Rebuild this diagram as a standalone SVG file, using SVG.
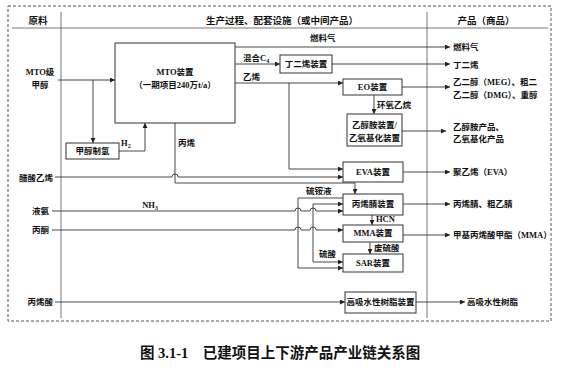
<svg xmlns="http://www.w3.org/2000/svg" width="561" height="372" viewBox="0 0 561 372">
<defs>
<marker id="ar" viewBox="0 0 6 6" refX="6" refY="3" markerWidth="5" markerHeight="5" orient="auto" markerUnits="userSpaceOnUse">
<path d="M0,0 L6,3 L0,6 z" fill="#222"/>
</marker>
</defs>
<style>
text{font-family:"Liberation Serif","Noto Sans CJK SC",serif;font-weight:bold;font-size:8.5px;fill:#111}
.h{font-size:9.5px}
.c{text-anchor:middle}
.e{text-anchor:end}
.box{fill:#fff;stroke:#333;stroke-width:1}
.ln{fill:none;stroke:#333;stroke-width:0.9}
.a{marker-end:url(#ar)}
.frame{fill:none;stroke:#555;stroke-width:1;stroke-dasharray:3,2}
.grid{fill:none;stroke:#666;stroke-width:0.9}
.cap{font-size:14.5px}
</style>
<rect width="561" height="372" fill="#fff"/>
<rect class="frame" x="8" y="6" width="543" height="315"/>
<g id="grid">
<line class="grid" x1="12" y1="28" x2="548" y2="28"/>
<line class="grid" x1="61" y1="12" x2="61" y2="318"/>
<line class="grid" x1="427" y1="12" x2="427" y2="318"/>
<text class="h c" x="38" y="24">原料</text>
<text class="h c" x="282" y="24">生产过程、配套设施（或中间产品）</text>
<text class="h c" x="486" y="24">产品（商品）</text>
</g>
<g id="connectors">
<path class="ln a" d="M58,80 H115"/>
<path class="ln a" d="M93,80 V143"/>
<path class="ln a" d="M119,151 H145 V123"/>
<path class="ln a" d="M235,47 H450"/>
<path class="ln a" d="M235,64 H280"/>
<path class="ln a" d="M332,64 H450"/>
<path class="ln a" d="M235,83 H343"/>
<path class="ln a" d="M402,87 H450"/>
<path class="ln a" d="M374,95 V114"/>
<path class="ln a" d="M402,131 H446"/>
<path class="ln a" d="M289,83 V169 H343"/>
<path class="ln a" d="M55,177 H172 a3,3 0 0 1 6,0 H343"/>
<path class="ln a" d="M175,123 V183 H355 V194"/>
<path class="ln a" d="M403,172 H450"/>
<path class="ln a" d="M343,198 H298 V268 H343"/>
<path class="ln a" d="M313,204 H343"/>
<path class="ln a" d="M313,204 V262 H343"/>
<path class="ln a" d="M52,211 H295 a3,3 0 0 1 6,0 H310 a3,3 0 0 1 6,0 H343"/>
<path class="ln a" d="M52,230 H295 a3,3 0 0 1 6,0 H310 a3,3 0 0 1 6,0 H343"/>
<path class="ln a" d="M403,204 H450"/>
<path class="ln a" d="M372,215 V225"/>
<path class="ln a" d="M403,235 H450"/>
<path class="ln a" d="M370,242 V254"/>
<path class="ln a" d="M55,302 H345"/>
<path class="ln a" d="M416,302 H465"/>
</g>
<g id="labels">
<text class="c" x="40" y="75">MTO级</text>
<text class="c" x="40" y="88">甲醇</text>
<text x="121" y="146">H<tspan font-size="6" dy="1.5">2</tspan></text>
<text x="178" y="146">丙烯</text>
<text x="310" y="41">燃料气</text>
<text x="243" y="61">混合C<tspan font-size="6" dy="1.5">4</tspan></text>
<text x="243" y="80">乙烯</text>
<text x="377" y="108">环氧乙烷</text>
<text x="306" y="194">硫铵液</text>
<text class="c" x="150" y="208">NH<tspan font-size="6" dy="1.5">3</tspan></text>
<text x="376" y="222">HCN</text>
<text x="374" y="251">废硫酸</text>
<text x="319" y="257">硫酸</text>
<text class="e" x="53" y="181">醋酸乙烯</text>
<text class="e" x="49" y="214">液氨</text>
<text class="e" x="49" y="233">丙酮</text>
<text class="e" x="53" y="305">丙烯酸</text>
<text x="453" y="50">燃料气</text>
<text x="453" y="68">丁二烯</text>
<text x="453" y="85">乙二醇（MEG）、粗二</text>
<text x="453" y="98">乙二醇（DMG）、重醇</text>
<text x="453" y="130">乙醇胺产品、</text>
<text x="453" y="142">乙氧基化产品</text>
<text x="453" y="175">聚乙烯（EVA）</text>
<text x="453" y="207">丙烯腈、粗乙腈</text>
<text x="453" y="238">甲基丙烯酸甲酯（MMA）</text>
<text x="467" y="305">高吸水性树脂</text>
</g>
<g id="n-mto"><rect class="box" x="115" y="43" width="120" height="80"/><text class="c" x="175" y="75">MTO装置</text><text class="c" x="175" y="88">（一期项目240万t/a）</text></g>
<g id="n-h2"><rect class="box" x="66" y="143" width="53" height="16"/><text class="c" x="92.5" y="154">甲醇制氢</text></g>
<g id="n-bd"><rect class="box" x="280" y="55" width="52" height="18"/><text class="c" x="306" y="67">丁二烯装置</text></g>
<g id="n-eo"><rect class="box" x="343" y="79" width="59" height="16"/><text class="c" x="372.5" y="90">EO装置</text></g>
<g id="n-eoa"><rect class="box" x="347" y="114" width="55" height="32"/><text class="c" x="374.5" y="128">乙醇胺装置/</text><text class="c" x="374.5" y="141">乙氧基化装置</text></g>
<g id="n-eva"><rect class="box" x="343" y="162" width="60" height="20"/><text class="c" x="373" y="175">EVA装置</text></g>
<g id="n-an"><rect class="box" x="343" y="194" width="60" height="21"/><text class="c" x="373" y="207">丙烯腈装置</text></g>
<g id="n-mma"><rect class="box" x="343" y="225" width="60" height="17"/><text class="c" x="373" y="236">MMA装置</text></g>
<g id="n-sar"><rect class="box" x="343" y="254" width="60" height="18"/><text class="c" x="373" y="266">SAR装置</text></g>
<g id="n-sap"><rect class="box" x="345" y="292" width="71" height="21"/><text class="c" x="380.5" y="305">高吸水性树脂装置</text></g>
<text class="cap" x="140" y="358">图 3.1-1　已建项目上下游产品产业链关系图</text>
</svg>
